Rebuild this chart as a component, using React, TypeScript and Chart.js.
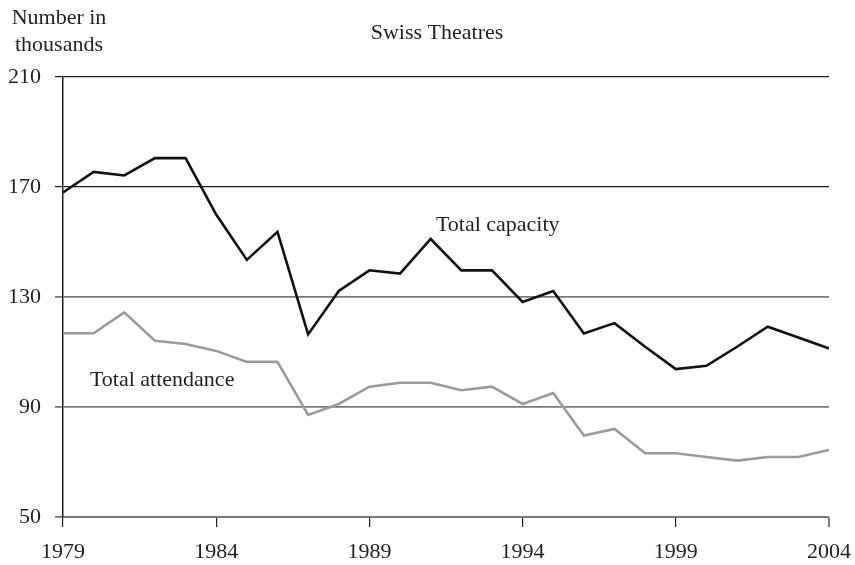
import React, { useEffect, useRef } from "react";
import { Chart, registerables } from "chart.js";

Chart.register(...registerables);

const years = [1979, 1980, 1981, 1982, 1983, 1984, 1985, 1986, 1987, 1988, 1989, 1990, 1991, 1992, 1993, 1994, 1995, 1996, 1997, 1998, 1999, 2000, 2001, 2002, 2003, 2004];
const totalCapacity = [168, 175.5, 174.2, 180.5, 180.5, 160, 143.5, 153.7, 116.4, 132.2, 139.7, 138.5, 151.1, 139.7, 139.7, 128.2, 132.2, 116.7, 120.5, 111.9, 103.8, 105, 111.9, 119.2, 115.3, 111.3];
const totalAttendance = [116.8, 116.8, 124.4, 114.1, 112.9, 110.4, 106.4, 106.4, 87.1, 91.1, 97.4, 98.8, 98.8, 96.1, 97.4, 91.1, 95.1, 79.6, 82, 73.2, 73.2, 71.8, 70.5, 71.8, 71.8, 74.4];
const xTicks = [1979, 1984, 1989, 1994, 1999, 2004];
const yTicks = [50, 90, 130, 170, 210];

const title = "Swiss Theatres";
const yTitle = ["Number in", "thousands"];
const capacityLabel = { text: "Total capacity", x: 1991.17, y: 156.2 };
const attendanceLabel = { text: "Total attendance", x: 1979.88, y: 99.8 };

const FONT = "'Liberation Serif', 'DejaVu Serif', serif";
const TEXT = "#231f20";

export default function App() {
  const ref = useRef<HTMLCanvasElement | null>(null);
  useEffect(() => {
    document.body.style.margin = "0";
    const canvas = ref.current;
    if (!canvas) return;
    const textPlugin = {
      id: "texts",
      afterDraw(chart: any) {
        const ctx = chart.ctx;
        const xs = chart.scales.x;
        const ys = chart.scales.y;
        ctx.save();
        ctx.fillStyle = TEXT;
        ctx.font = `22px ${FONT}`;
        ctx.textBaseline = "middle";
        ctx.textAlign = "center";
        ctx.fillText(title, 437, 33);
        ctx.fillText(yTitle[0], 59, 18);
        ctx.fillText(yTitle[1], 59, 45);
        ctx.textAlign = "left";
        ctx.fillText(capacityLabel.text, xs.getPixelForValue(capacityLabel.x), ys.getPixelForValue(capacityLabel.y));
        ctx.fillText(attendanceLabel.text, xs.getPixelForValue(attendanceLabel.x), ys.getPixelForValue(attendanceLabel.y));
        ctx.restore();
      },
    };
    const chart = new Chart(canvas, {
      type: "line",
      data: {
        datasets: [
          {
            label: "Total attendance",
            data: years.map((y, i) => ({ x: y, y: totalAttendance[i] })),
            borderColor: "#9b9b9b",
            borderWidth: 2.6,
            pointRadius: 0,
            tension: 0,
          },
          {
            label: "Total capacity",
            data: years.map((y, i) => ({ x: y, y: totalCapacity[i] })),
            borderColor: "#111111",
            borderWidth: 2.6,
            pointRadius: 0,
            tension: 0,
          },
        ],
      },
      options: {
        animation: false,
        responsive: false,
        maintainAspectRatio: false,
        layout: { padding: { left: 0, right: 26, top: 77, bottom: 0 } },
        plugins: { legend: { display: false }, tooltip: { enabled: false }, title: { display: false } },
        scales: {
          x: {
            type: "linear",
            min: 1979,
            max: 2004,
            afterBuildTicks: (scale: any) => {
              scale.ticks = xTicks.map((v) => ({ value: v }));
            },
            afterFit: (scale: any) => {
              scale.height = 48;
              scale.paddingLeft = 0;
              scale.paddingRight = 0;
            },
            ticks: {
              color: TEXT,
              font: { family: FONT, size: 22 },
              padding: 12,
              maxRotation: 0,
              autoSkip: false,
              callback: (v: any) => String(v),
            },
            grid: {
              drawOnChartArea: false,
              drawTicks: true,
              tickLength: 10,
              color: (c: any) => (c.tick && c.tick.value === 2004 ? "#7a7a7a" : "#231f20"),
              lineWidth: (c: any) => (c.tick && c.tick.value === 2004 ? 2 : 1.2),
            },
            border: { display: true, color: "#7a7a7a", width: 2 },
          },
          y: {
            type: "linear",
            min: 50,
            max: 210,
            afterBuildTicks: (scale: any) => {
              scale.ticks = yTicks.map((v) => ({ value: v }));
            },
            afterFit: (scale: any) => {
              scale.width = 63;
              scale.paddingTop = 0;
              scale.paddingBottom = 0;
            },
            ticks: {
              color: TEXT,
              font: { family: FONT, size: 22 },
              padding: 14,
              callback: (v: any) => String(v),
            },
            grid: {
              drawTicks: true,
              tickLength: 8,
              color: (c: any) => (c.tick && c.tick.value >= 170 ? "#231f20" : "#7a7a7a"),
              lineWidth: (c: any) => (c.tick && c.tick.value >= 170 ? 1.2 : 1.8),
            },
            border: { display: true, color: "#231f20", width: 1.5 },
          },
        },
      },
      plugins: [textPlugin],
    } as any);
    return () => chart.destroy();
  }, []);
  return (
    <div style={{ position: "absolute", left: 0, top: 0, width: 855, height: 565 }}>
      <canvas ref={ref} width={855} height={565} style={{ width: 855, height: 565 }} />
    </div>
  );
}
